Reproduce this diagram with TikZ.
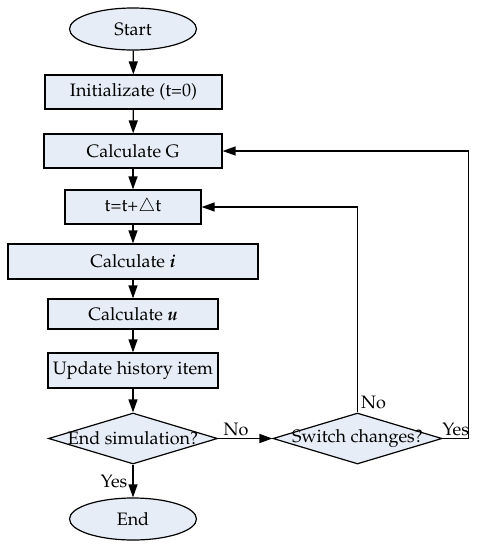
\documentclass[tikz,border=0pt]{standalone}
\usepackage[T1]{fontenc}
\usepackage{mathpazo}
\usetikzlibrary{arrows.meta, shapes.geometric}
\definecolor{boxfill}{RGB}{231,237,246}
\newcommand{\flowfont}{\fontsize{18}{21}\selectfont}
\tikzset{
  box/.style      = {draw=black, fill=boxfill, line width=1.2pt, inner sep=0pt,
                     minimum height=34pt, align=center, font=\flowfont},
  term/.style     = {ellipse, draw=black, fill=boxfill, line width=1.2pt, inner sep=0pt,
                     minimum width=127pt, minimum height=42pt, font=\flowfont},
  decision/.style = {diamond, draw=black, fill=boxfill, line width=1.2pt, inner sep=0pt,
                     minimum width=169pt, minimum height=51pt},
  arrow/.style    = {-{Triangle[length=13pt, width=9pt]}, line width=1.3pt, color=black},
}
\begin{document}
\begin{tikzpicture}[x=1pt, y=-1pt, every node/.style={font=\flowfont}]
  \useasboundingbox (0,0) rectangle (477,550);
  % main column
  \node[term] (start) at (133,29) {Start};
  \node[box, minimum width=177pt] (init) at (133.5,92) {Initializate (t=0)};
  \node[box, minimum width=178pt] (calcg) at (133,151) {Calculate G};
  \node[box, minimum width=136pt] (tstep) at (133,207) {t=t+$\triangle$t};
  \node[box, minimum width=250pt, minimum height=35pt] (calci) at (133,261.5) {Calculate \textbf{\textit{i}}};
  \node[box, minimum width=170pt, minimum height=30pt] (calcu) at (133,314) {Calculate \textbf{\textit{u}}};
  \node[box, minimum width=170pt, minimum height=35pt] (update) at (133,370.5) {Update history item};
  \node[decision, label=center:{End simulation?}] (endsim) at (133,438.5) {};
  \node[decision, label=center:{Switch changes?}] (switch) at (357.5,438.5) {};
  \node[term] (finish) at (133,519) {End};
  % arrows
  \draw[arrow] (start) -- (init);
  \draw[arrow] (init) -- (calcg);
  \draw[arrow] (calcg) -- (tstep);
  \draw[arrow] (tstep) -- (calci);
  \draw[arrow] (calci) -- (calcu);
  \draw[arrow] (calcu) -- (update);
  \draw[arrow] (update) -- (endsim);
  \draw[arrow] (endsim) -- node[above, pos=0.33, inner sep=2pt] {No} (switch);
  \draw[arrow] (endsim) -- node[left, inner sep=5pt] {Yes} (finish);
  % feedback loops
  \draw[arrow] (switch.north) node[above right, inner sep=3pt] {No} |- (tstep.east);
  \draw[arrow] (switch.east) -- node[above, inner sep=2pt] {Yes} ++(26,0) |- (calcg.east);
\end{tikzpicture}
\end{document}
